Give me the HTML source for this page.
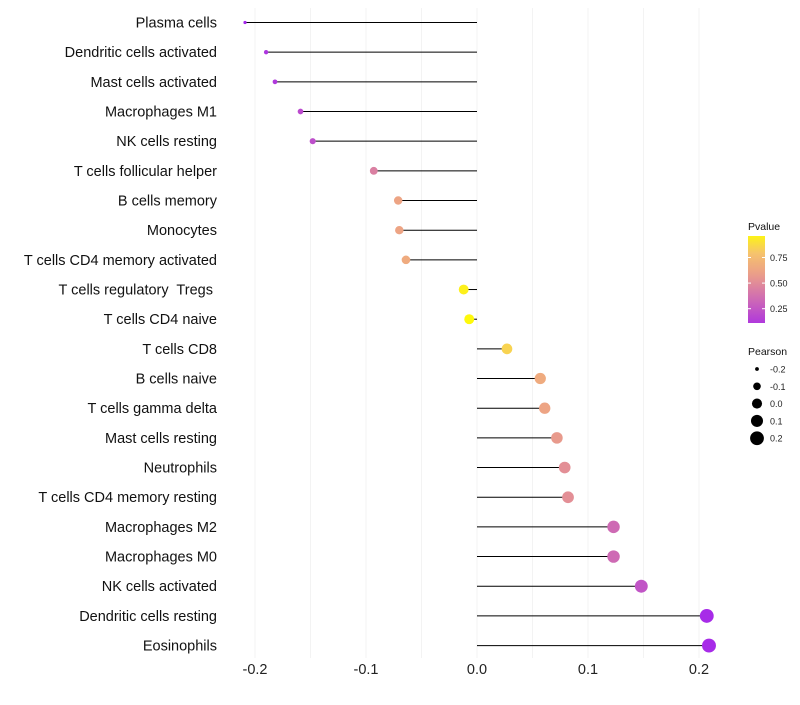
<!DOCTYPE html>
<html><head><meta charset="utf-8"><style>
body{margin:0;background:#fff;font-family:"Liberation Sans",sans-serif}
text{white-space:pre}
</style></head><body>
<svg id="chart" width="800" height="700" xmlns="http://www.w3.org/2000/svg">
<defs><linearGradient id="pg" x1="0" y1="1" x2="0" y2="0"></linearGradient></defs>
<g id="grid"></g><g id="marks"></g><g id="axes"></g><g id="legend"></g>
</svg>
<script>
const categories=["Plasma cells","Dendritic cells activated","Mast cells activated","Macrophages M1","NK cells resting","T cells follicular helper","B cells memory","Monocytes","T cells CD4 memory activated","T cells regulatory  Tregs ","T cells CD4 naive","T cells CD8","B cells naive","T cells gamma delta","Mast cells resting","Neutrophils","T cells CD4 memory resting","Macrophages M2","Macrophages M0","NK cells activated","Dendritic cells resting","Eosinophils"];
const pearson=[-0.209,-0.190,-0.182,-0.159,-0.148,-0.093,-0.071,-0.070,-0.064,-0.012,-0.007,0.027,0.057,0.061,0.072,0.079,0.082,0.123,0.123,0.148,0.207,0.209];
const pvalue=[0.03,0.1,0.12,0.2,0.22,0.45,0.62,0.62,0.66,0.95,0.98,0.85,0.66,0.62,0.57,0.52,0.52,0.35,0.35,0.25,0.05,0.05];
const xTicks=[-0.2,-0.1,0.0,0.1,0.2];
const xTickLabels=["-0.2","-0.1","0.0","0.1","0.2"];
const pTicks=[0.25,0.5,0.75];
const sizeBreaks=[-0.2,-0.1,0.0,0.1,0.2];
const NS="http://www.w3.org/2000/svg";
const x=v=>477+v*1110;
const y=i=>22.5+i*29.67;
const rad=v=>Math.sqrt(2.5+(v+0.21)/0.42*46);
const stops=[[0,[160,32,240]],[0.33,[204,102,184]],[0.6,[236,160,135]],[0.8,[246,196,108]],[1,[255,255,0]]];
function col(p){for(let k=1;k<stops.length;k++){if(p<=stops[k][0]){const a=stops[k-1],b=stops[k],t=(p-a[0])/(b[0]-a[0]);return 'rgb('+a[1].map((c,j)=>Math.round(c+(b[1][j]-c)*t)).join(',')+')';}}return 'rgb(255,255,0)';}
function mk(t,a,parent){const e=document.createElementNS(NS,t);for(const k in a)e.setAttribute(k,a[k]);parent.appendChild(e);return e;}
const grid=document.getElementById('grid'),marks=document.getElementById('marks'),axes=document.getElementById('axes'),lg=document.getElementById('legend');
for(let v=-0.2;v<=0.2001;v+=0.05){const g=mk('line',{x1:x(v),x2:x(v),y1:8,y2:658,stroke:'#f3f3f3','stroke-width':1},grid);

}
categories.forEach((c,i)=>{
const l=mk('line',{x1:x(0),x2:x(pearson[i]),y1:y(i),y2:y(i),stroke:'#000','stroke-width':1},marks);


const d=mk('circle',{cx:x(pearson[i]),cy:y(i),r:rad(pearson[i]),fill:col(pvalue[i])},marks);


const t=mk('text',{x:217,y:y(i)+5,'text-anchor':'end','font-size':14.5,fill:'#111'},axes);t.textContent=c;


});
xTicks.forEach((v,i)=>{const t=mk('text',{x:x(v),y:674,'text-anchor':'middle','font-size':14.5,fill:'#222'},axes);t.textContent=xTickLabels[i];

});
const gr=document.getElementById('pg');
for(let p=0;p<=1.001;p+=0.1){mk('stop',{offset:p,'stop-color':col(0.12+p*0.84)},gr);}
let t=mk('text',{x:748,y:230,'font-size':10.5,fill:'#111'},lg);t.textContent='Pvalue';


const cb=mk('rect',{x:748,y:236,width:17,height:87,fill:'url(#pg)'},lg);


const py=p=>322-(p-0.12)/0.84*86;
pTicks.forEach(p=>{mk('line',{x1:748,x2:751,y1:py(p),y2:py(p),stroke:'#fff'},lg);mk('line',{x1:762,x2:765,y1:py(p),y2:py(p),stroke:'#fff'},lg);
const tt=mk('text',{x:770,y:py(p)+3.5,'font-size':9,fill:'#222'},lg);tt.textContent=p.toFixed(2);

});
t=mk('text',{x:748,y:355,'font-size':10.5,fill:'#111'},lg);t.textContent='Pearson';


sizeBreaks.forEach((v,i)=>{const cy=369+i*17.3;const c=mk('circle',{cx:757,cy:cy,r:rad(v),fill:'#000'},lg);


const tt=mk('text',{x:770,y:cy+3.5,'font-size':9,fill:'#222'},lg);tt.textContent=v.toFixed(1);

});
</script>
</body></html>
